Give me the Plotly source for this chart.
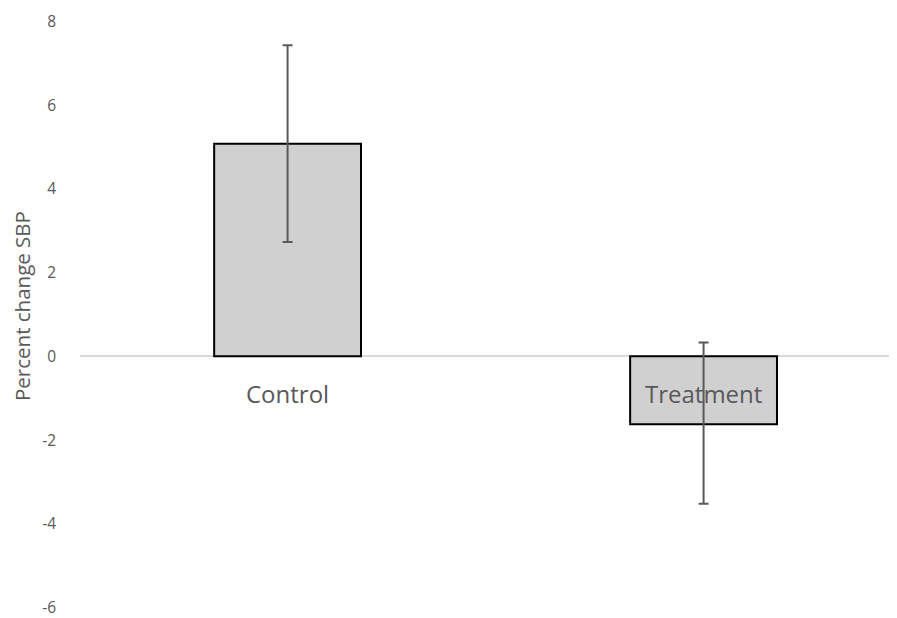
import plotly.graph_objects as go

categories = ["Control", "Treatment"]
values = [5.08, -1.62]
errors_plus = [2.35, 1.95]
errors_minus = [2.35, 1.90]
y_ticks = [-6, -4, -2, 0, 2, 4, 6, 8]
y_tick_labels = [str(v) for v in y_ticks]
y_title = "Percent change SBP"

font_family = "Open Sans, Lato, sans-serif"
text_color = "#595959"

fig = go.Figure()
fig.add_trace(go.Bar(
    x=categories,
    y=values,
    width=0.353,
    marker=dict(color="#d0d0d0", line=dict(color="#000000", width=2)),
    error_y=dict(type="data", symmetric=False, array=errors_plus, arrayminus=errors_minus,
                 color=text_color, thickness=2, width=5),
    showlegend=False,
))

for c in categories:
    fig.add_annotation(x=c, y=0, text=c, showarrow=False, yshift=-37,
                       font=dict(family=font_family, size=24, color=text_color))

fig.add_annotation(xref="paper", yref="paper", x=-0.071, y=0.5145, text=y_title,
                   textangle=-90, showarrow=False, xanchor="center", yanchor="middle",
                   borderpad=0,
                   font=dict(family=font_family, size=20.5, color=text_color))

fig.update_layout(
    width=889, height=610,
    margin=dict(l=72, r=0, t=13, b=10),
    paper_bgcolor="white", plot_bgcolor="white",
    font=dict(family=font_family, color=text_color),
    xaxis=dict(range=[-0.499, 1.465], showticklabels=False, showgrid=False,
               zeroline=False, showline=False),
    yaxis=dict(range=[-6.01, 8.01], tickvals=y_ticks, ticktext=y_tick_labels, showgrid=False,
               zeroline=True, zerolinecolor="#d9d9d9", zerolinewidth=1.5,
               ticklabeloverflow="allow",
               ticklabelstandoff=23, tickfont=dict(size=15.5, color=text_color)),
)

fig.write_html("out.html")
